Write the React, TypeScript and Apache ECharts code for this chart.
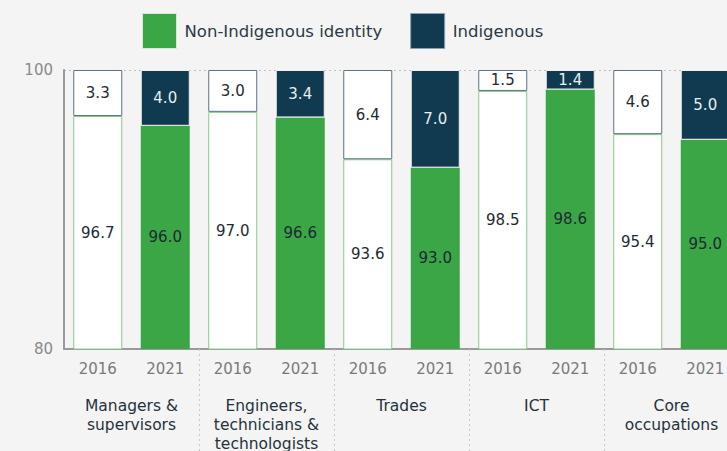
import React, { useEffect, useRef } from "react";
import * as echarts from "echarts";

const groups = ["Managers &\nsupervisors", "Engineers,\ntechnicians &\ntechnologists", "Trades", "ICT", "Core\noccupations"];
const years = ["2016", "2021"];
const nonIndig2016 = [96.7, 97.0, 93.6, 98.5, 95.4];
const nonIndig2021 = [96.0, 96.6, 93.0, 98.6, 95.0];
const indig2016 = [3.3, 3.0, 6.4, 1.5, 4.6];
const indig2021 = [4.0, 3.4, 7.0, 1.4, 5.0];

const GREEN = "#3ba646";
const NAVY = "#0f3a4f";
const FONT = "DejaVu Sans";

export default function App() {
  const ref = useRef<HTMLDivElement>(null);
  useEffect(() => {
    if (!ref.current) return;
    const chart = echarts.init(ref.current, null, { renderer: "svg" });
    const cats: string[] = [];
    const nonData: any[] = [];
    const indData: any[] = [];
    groups.forEach((_, i) => {
      cats.push(years[0], years[1]);
      nonData.push({
        value: nonIndig2016[i],
        itemStyle: { color: "#ffffff", borderColor: "#86c98a", borderWidth: 1 },
        label: { color: "#1d2a33" },
      });
      nonData.push({ value: nonIndig2021[i] });
      indData.push({
        value: indig2016[i],
        itemStyle: { color: "#ffffff", borderColor: "#5a7282", borderWidth: 1 },
        label: { color: "#1d2a33" },
      });
      indData.push({ value: indig2021[i] });
    });
    chart.setOption({
      animation: false,
      backgroundColor: "#f4f4f4",
      textStyle: { fontFamily: FONT },
      legend: {
        left: 142,
        top: 13,
        padding: 0,
        itemWidth: 34,
        itemHeight: 35,
        itemGap: 28,
        icon: "rect",
        textStyle: { fontFamily: FONT, fontSize: 16.5, color: "#2a3a44", padding: [0, 0, 0, 3] },
        data: [
          { name: "Non-Indigenous identity", itemStyle: { color: GREEN, borderColor: "#d8e8d8", borderWidth: 1 } },
          { name: "Indigenous", itemStyle: { color: NAVY, borderColor: "#8aa0aa", borderWidth: 1 } },
        ],
      },
      grid: { left: 64, top: 70, width: 675, bottom: 102, containLabel: false, outerBoundsMode: "none" },
      xAxis: [
        {
          type: "category",
          data: cats,
          axisLine: { lineStyle: { color: "#9a9a9a", width: 2 } },
          axisTick: { show: false },
          axisLabel: { color: "#7a7a7a", fontSize: 15, margin: 12, interval: 0, fontFamily: FONT },
        },
        {
          type: "category",
          data: groups,
          position: "bottom",
          axisLine: { show: false },
          axisTick: {
            show: true,
            length: 105,
            interval: (index: number) => index !== 0,
            lineStyle: { color: "#c8c8c8", type: [2, 3], width: 1 },
          },
          axisLabel: { color: "#24323c", fontSize: 15.5, lineHeight: 19, margin: 47, interval: 0, hideOverlap: false, fontFamily: FONT },
        },
      ],
      yAxis: {
        type: "value",
        min: 80,
        max: 100,
        interval: 20,
        axisLine: { show: true, lineStyle: { color: "#9a9a9a", width: 2 } },
        axisTick: { show: false },
        axisLabel: { color: "#8a8a8a", fontSize: 15, margin: 11, fontFamily: FONT },
        splitLine: { lineStyle: { color: "#bdbdbd", type: [2, 3], width: 1 } },
      },
      series: [
        {
          name: "Non-Indigenous identity",
          type: "bar",
          stack: "total",
          barWidth: 49,
          color: GREEN,
          data: nonData,
          label: { show: true, position: "inside", fontSize: 15, color: "#1d2a33", fontFamily: FONT, formatter: (p: any) => p.value.toFixed(1) },
        },
        {
          name: "Indigenous",
          type: "bar",
          stack: "total",
          barWidth: 49,
          color: NAVY,
          itemStyle: { borderColor: "#eef0ee", borderWidth: 1 },
          data: indData,
          label: { show: true, position: "inside", fontSize: 15, color: "#e8eef0", fontFamily: FONT, formatter: (p: any) => p.value.toFixed(1) },
        },
      ],
    });
    return () => chart.dispose();
  }, []);
  return <div ref={ref} style={{ width: 727, height: 451, position: "absolute", left: 0, top: 0 }} />;
}
